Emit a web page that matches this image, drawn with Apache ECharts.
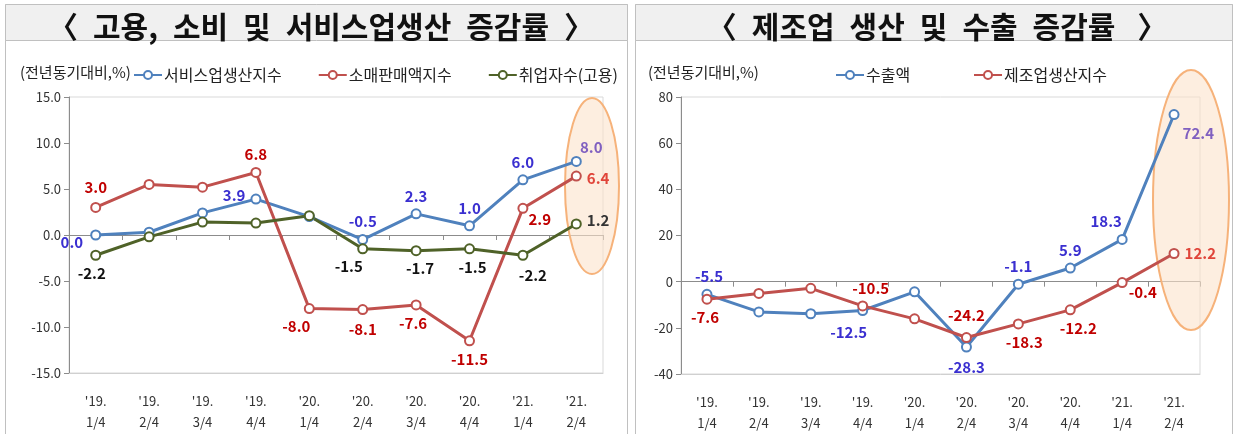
<!DOCTYPE html>
<html>
<head>
<meta charset="utf-8">
<script src="https://cdn.jsdelivr.net/npm/echarts@6/dist/echarts.min.js"></script>
<style>
  html, body { margin: 0; padding: 0; background: #fff; }
  #chart { width: 1236px; height: 434px; }
</style>
</head>
<body>
<div id="chart"></div>
<script>
// x categories (shared by both panels)
const categories = ["'19.\n1/4", "'19.\n2/4", "'19.\n3/4", "'19.\n4/4", "'20.\n1/4",
  "'20.\n2/4", "'20.\n3/4", "'20.\n4/4", "'21.\n1/4", "'21.\n2/4"];

// left panel: 고용, 소비 및 서비스업생산 증감률
const serviceIdx = [0.0, 0.3, 2.4, 3.9, 2.0, -0.5, 2.3, 1.0, 6.0, 8.0];
const retailIdx = [3.0, 5.5, 5.2, 6.8, -8.0, -8.1, -7.6, -11.5, 2.9, 6.4];
const employed = [-2.2, -0.2, 1.4, 1.3, 2.1, -1.5, -1.7, -1.5, -2.2, 1.2];
const leftTicks = [-15, -10, -5, 0, 5, 10, 15];

// right panel: 제조업 생산 및 수출 증감률
const exportAmt = [-5.5, -13.1, -13.9, -12.5, -4.4, -28.3, -1.1, 5.9, 18.3, 72.4];
const mfgIdx = [-7.6, -5.1, -2.9, -10.5, -16.1, -24.2, -18.3, -12.2, -0.4, 12.2];
const rightTicks = [-40, -20, 0, 20, 40, 60, 80];

// label placement per point (null = no label) : [position, dx, dy]
const serviceLbl = [['left', -2, 7], null, null, ['left', 0, -4], null,
  ['top', 0, 0], ['top', 0, 0], ['top', 0, 0], ['top', 0, 0], ['top', 15, 4]];
const retailLbl = [['top', 0, -2], null, null, ['top', 0, 0], ['bottom', -13, 0],
  ['bottom', 0, 2], ['bottom', -3, 0], ['bottom', 0, 0], ['right', -5, 11], ['right', 0, 2]];
const employedLbl = [['bottom', -4, 0], null, null, null, null,
  ['bottom', -14, -1], ['bottom', 4, 0], ['bottom', 3, 0], ['bottom', 10, 2], ['right', 0, -4]];
const exportLbl = [['top', 2, 0], null, null, ['bottom', -14, 4], null,
  ['bottom', 0, 2], ['top', 0, 0], ['top', 0, 0], ['top', -16, 0], ['right', -2, 19]];
const mfgLbl = [['bottom', -2, 0], null, null, ['top', 8, 0], null,
  ['top', 0, -4], ['bottom', 6, 0], ['bottom', 8, 0], ['right', -4, 10], ['right', 0, 0]];

const FONT = '"Noto Sans CJK KR", "Noto Sans", sans-serif';
const GAP = '\u2002';

function withLabels(values, specs, color, lastColor) {
  return values.map((v, i) => {
    const s = specs[i];
    if (!s) return { value: v, label: { show: false } };
    return {
      value: v,
      label: {
        show: true,
        position: s[0],
        offset: [s[1], s[2]],
        color: i === values.length - 1 && lastColor ? lastColor : color,
      },
    };
  });
}

function lineSeries(name, values, specs, color, lblColor, lastColor, idx) {
  return {
    name,
    type: 'line',
    xAxisIndex: idx * 2,
    yAxisIndex: idx,
    symbol: 'circle',
    symbolSize: 9,
    z: 3,
    lineStyle: { color, width: 3 },
    itemStyle: { color: '#fff', borderColor: color, borderWidth: 2 },
    label: {
      fontFamily: FONT,
      fontWeight: 'bold',
      fontSize: 15,
      formatter: (p) => p.value.toFixed(1),
    },
    emphasis: { disabled: true },
    data: withLabels(values, specs, lblColor, lastColor),
  };
}

function xAxes(gridIndex) {
  return [
    {
      // labels + bottom border
      type: 'category',
      gridIndex,
      data: categories,
      boundaryGap: true,
      axisLine: { onZero: false, lineStyle: { color: '#d0d0d0' } },
      axisTick: { show: false },
      axisLabel: { color: '#333', fontSize: 13, fontFamily: FONT, lineHeight: 21, margin: 18 },
    },
    {
      // zero line with ticks
      type: 'category',
      gridIndex,
      data: categories,
      boundaryGap: true,
      position: 'bottom',
      axisLine: { onZero: true, lineStyle: { color: '#8c8c8c', width: 1 } },
      axisTick: { show: true, length: 5, lineStyle: { color: '#8c8c8c' } },
      axisLabel: { show: false },
    },
  ];
}

function yAxis(gridIndex, ticks, digits) {
  return {
    type: 'value',
    gridIndex,
    min: ticks[0],
    max: ticks[ticks.length - 1],
    interval: ticks[1] - ticks[0],
    splitLine: { show: false },
    axisLine: { show: true, lineStyle: { color: '#8c8c8c' } },
    axisTick: { show: true, length: 5, lineStyle: { color: '#8c8c8c' } },
    axisLabel: {
      color: '#333',
      fontSize: 13,
      fontFamily: FONT,
      margin: 8,
      formatter: (v) => v.toFixed(digits),
    },
  };
}

const legendText = { fontFamily: FONT, fontSize: 16, color: '#222', padding: [0, 0, 0, -3] };

const chart = echarts.init(document.getElementById('chart'), null, { renderer: 'canvas' });

chart.setOption({
  animation: false,
  backgroundColor: '#fff',
  title: [
    {
      text: ['〈', '고용,', '소비', '및', '서비스업생산', '증감률', '〉'].join(GAP),
      left: 316, top: 22, textAlign: 'center', textVerticalAlign: 'middle',
      textStyle: { fontFamily: FONT, fontSize: 30, fontWeight: 'bold', color: '#111' },
    },
    {
      text: ['〈', '제조업', '생산', '및', '수출', '증감률', ' 〉'].join(GAP),
      left: 932, top: 22, textAlign: 'center', textVerticalAlign: 'middle',
      textStyle: { fontFamily: FONT, fontSize: 30, fontWeight: 'bold', color: '#111' },
    },
  ],
  legend: [
    {
      data: ['서비스업생산지수', '소매판매액지수', '취업자수(고용)'],
      left: 128, top: 62,
      itemWidth: 28, itemHeight: 10, itemGap: 36,
      textStyle: legendText,
    },
    {
      data: ['수출액'],
      left: 830, top: 62,
      itemWidth: 28, itemHeight: 10,
      textStyle: legendText,
    },
    {
      data: ['제조업생산지수'],
      left: 968, top: 62,
      itemWidth: 28, itemHeight: 10,
      textStyle: legendText,
    },
  ],
  grid: [
    { left: 69, top: 97, width: 534, height: 276, show: true, borderColor: '#d9d9d9', borderWidth: 1, backgroundColor: 'transparent' },
    { left: 681, top: 97, width: 519, height: 278, show: true, borderColor: '#d9d9d9', borderWidth: 1, backgroundColor: 'transparent' },
  ],
  xAxis: [...xAxes(0), ...xAxes(1)],
  yAxis: [yAxis(0, leftTicks, 1), yAxis(1, rightTicks, 0)],
  graphic: [
    // panels
    { type: 'rect', z: -10, shape: { x: 5.5, y: 4.5, width: 622, height: 440 }, style: { fill: '#fff', stroke: '#c0c0c0', lineWidth: 1 } },
    { type: 'rect', z: -9, shape: { x: 5.5, y: 4.5, width: 622, height: 36 }, style: { fill: '#f0f0f0', stroke: '#c0c0c0', lineWidth: 1 } },
    { type: 'rect', z: -10, shape: { x: 635.5, y: 4.5, width: 597, height: 440 }, style: { fill: '#fff', stroke: '#c0c0c0', lineWidth: 1 } },
    { type: 'rect', z: -9, shape: { x: 635.5, y: 4.5, width: 597, height: 36 }, style: { fill: '#f0f0f0', stroke: '#c0c0c0', lineWidth: 1 } },
    // unit notes
    { type: 'text', z: 5, x: 20, y: 72, style: { text: '(전년동기대비,%)', fontFamily: FONT, fontSize: 15, fill: '#222', verticalAlign: 'middle' } },
    { type: 'text', z: 5, x: 648, y: 72, style: { text: '(전년동기대비,%)', fontFamily: FONT, fontSize: 15, fill: '#222', verticalAlign: 'middle' } },
    // highlight ellipses
    { type: 'ellipse', z: 1, shape: { cx: 592, cy: 186, rx: 27, ry: 88 }, style: { fill: 'rgba(252,226,204,0.6)', stroke: '#f6b27a', lineWidth: 2 } },
    { type: 'ellipse', z: 1, shape: { cx: 1191, cy: 200, rx: 38, ry: 130 }, style: { fill: 'rgba(252,226,204,0.6)', stroke: '#f6b27a', lineWidth: 2 } },
  ],
  series: [
    lineSeries('서비스업생산지수', serviceIdx, serviceLbl, '#4f81bd', '#3a2fd0', '#8060c0', 0),
    lineSeries('소매판매액지수', retailIdx, retailLbl, '#c0504d', '#c00000', '#e0453a', 0),
    lineSeries('취업자수(고용)', employed, employedLbl, '#4f6228', '#111', '#333', 0),
    lineSeries('수출액', exportAmt, exportLbl, '#4f81bd', '#3a2fd0', '#8060c0', 1),
    lineSeries('제조업생산지수', mfgIdx, mfgLbl, '#c0504d', '#c00000', '#e0453a', 1),
  ],
});
</script>
</body>
</html>
